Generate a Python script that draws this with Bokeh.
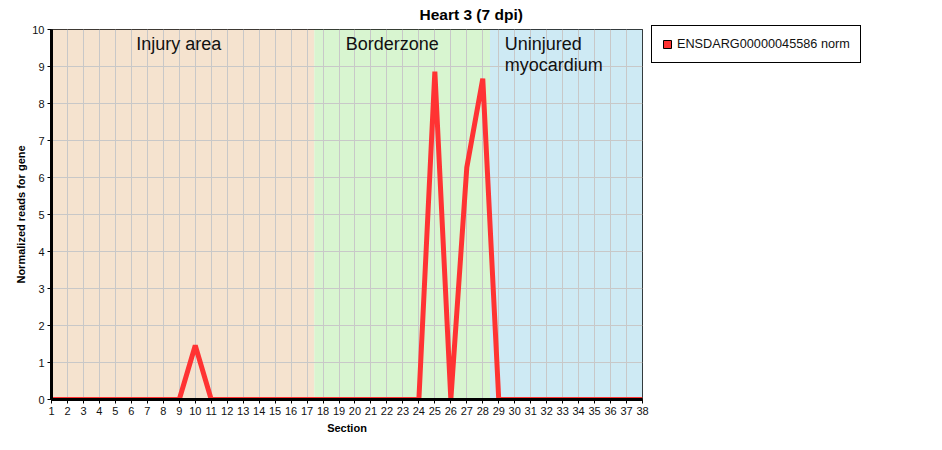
from bokeh.plotting import figure
from bokeh.models import BoxAnnotation, Label, Legend, LegendItem, Title, FixedTicker, ColumnDataSource
from bokeh.embed import file_html
from bokeh.resources import INLINE

sections = list(range(1, 39))
values = [0, 0, 0, 0, 0, 0, 0, 0, 0, 1.46, 0, 0, 0, 0, 0, 0, 0, 0, 0, 0,
          0, 0, 0, 0, 8.86, 0, 6.27, 8.67, 0, 0, 0, 0, 0, 0, 0, 0, 0, 0]
series_name = "ENSDARG00000045586 norm"
region_names = ["Injury area", "Borderzone", "Uninjured", "myocardium"]
region_bounds = [1, 17.45, 28.45, 38]
region_colors = ["#F5E3CF", "#D8F5D0", "#CEEAF4"]
y_ticks = list(range(0, 11))

FONT = "Liberation Sans"

p = figure(frame_width=591, frame_height=370, x_range=(1, 38), y_range=(0, 10),
           output_backend="svg", toolbar_location=None,
           min_border_left=51, min_border_top=23, min_border_right=20, min_border_bottom=42)

for i, c in enumerate(region_colors):
    p.add_layout(BoxAnnotation(left=region_bounds[i], right=region_bounds[i + 1],
                               fill_color=c, fill_alpha=1, line_alpha=0, level="image"))

p.xgrid.grid_line_color = "#C8C8C8"
p.ygrid.grid_line_color = "#C8C8C8"
p.xgrid.ticker = FixedTicker(ticks=sections)
p.ygrid.ticker = FixedTicker(ticks=y_ticks)

for ax in (p.xaxis, p.yaxis):
    ax.axis_line_width = 3
    ax.axis_line_color = "black"
    ax.major_tick_line_color = "black"
    ax.major_tick_in = 0
    ax.major_tick_out = 4
    ax.minor_tick_line_color = None
    ax.major_label_text_font = FONT
    ax.major_label_text_font_size = "11px"
    ax.major_label_text_color = "#111111"
    ax.axis_label_text_font = FONT
    ax.axis_label_text_font_size = "11px"
    ax.axis_label_text_font_style = "bold"
    ax.axis_label_text_color = "black"

p.xaxis.ticker = FixedTicker(ticks=sections)
p.yaxis.ticker = FixedTicker(ticks=y_ticks)
p.xaxis.axis_label = "Section"
p.yaxis.axis_label = "Normalized reads for gene"
p.xaxis.major_label_standoff = 3
p.yaxis.major_label_standoff = 3
p.xaxis.axis_label_standoff = 4
p.yaxis.axis_label_standoff = 2

p.outline_line_color = "black"
p.outline_line_alpha = 1
p.outline_line_width = 1

src = ColumnDataSource(dict(x=sections, y=values))
p.line("x", "y", source=src, line_color="#FF3333", line_width=5)

nan = float("nan")
dummy = p.quad(left=[nan], right=[nan], top=[nan], bottom=[nan],
               fill_color="#FF3333", line_color="black", line_width=1)

lab_kw = dict(text_font=FONT, text_font_size="18px", text_color="#111111", text_baseline="top")
p.add_layout(Label(x=6.3, y=9.89, text=region_names[0], **lab_kw))
p.add_layout(Label(x=19.42, y=9.89, text=region_names[1], **lab_kw))
p.add_layout(Label(x=29.37, y=9.89, text=region_names[2], **lab_kw))
p.add_layout(Label(x=29.37, y=9.31, text=region_names[3], **lab_kw))

p.title = Title(text="Heart 3 (7 dpi)", align="left", offset=368, vertical_align="top",
                text_font=FONT, text_font_size="15.5px", text_font_style="bold", text_color="black")

legend = Legend(items=[LegendItem(label=series_name, renderers=[dummy])], location=(9, 336),
                label_text_font=FONT, label_text_font_size="12.7px", label_text_color="#111111",
                border_line_color="black", border_line_width=1, border_line_alpha=1,
                background_fill_color="white", background_fill_alpha=1,
                glyph_width=10, glyph_height=10, label_height=16, padding=10, spacing=0, margin=0,
                label_standoff=5)
p.add_layout(legend, "right")

open("out.html", "w").write(file_html(p, INLINE))
